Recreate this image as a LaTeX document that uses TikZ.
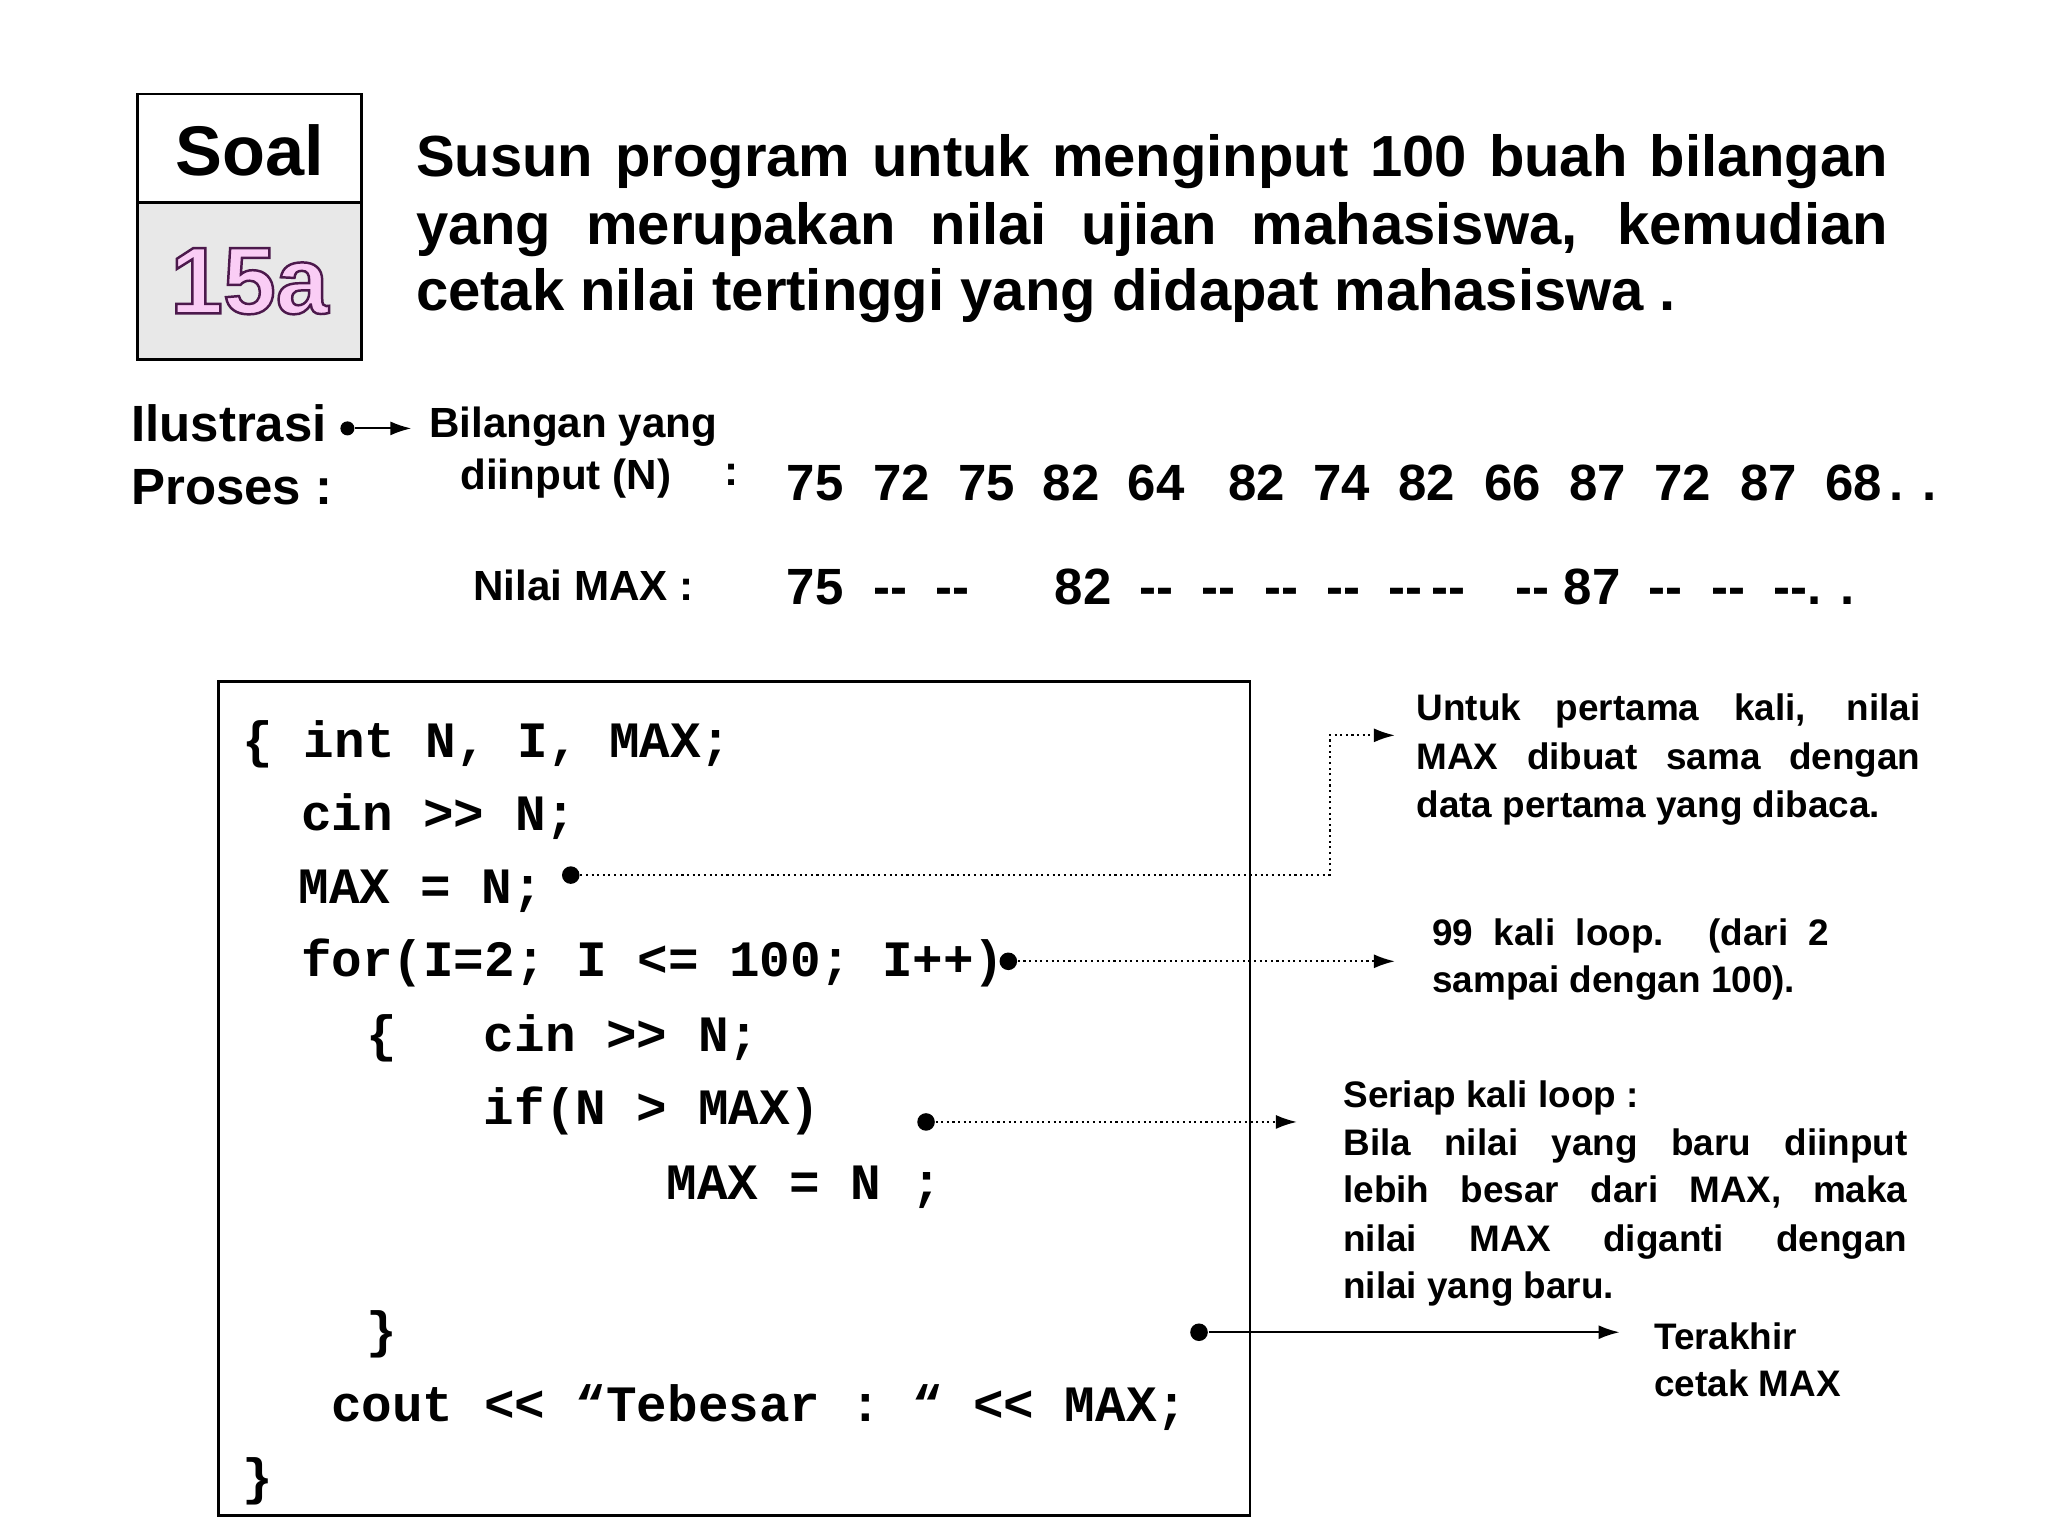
\documentclass[tikz,border=0pt]{standalone}
\usepackage{fontspec}
\setmainfont{Liberation Sans}
\setmonofont{Liberation Mono}
\usetikzlibrary{arrows.meta}
\definecolor{boxgray}{RGB}{232,232,232}
\definecolor{pinkfill}{RGB}{250,205,245}
\newcommand{\dd}{-{}-{}}
\tikzset{
 txt/.style={anchor=base west,inner sep=0pt,font=\bfseries\fontsize{16.5}{19}\selectfont},
 num/.style={anchor=base west,inner sep=0pt,font=\bfseries\fontsize{14.5}{17}\selectfont},
 lbl/.style={anchor=base west,inner sep=0pt,font=\bfseries\fontsize{12}{14}\selectfont},
 note/.style={anchor=base west,inner sep=0pt,font=\bfseries\fontsize{10.5}{13}\selectfont},
 code/.style={anchor=base west,inner sep=0pt,font=\ttfamily\bfseries\fontsize{14.5}{17}\selectfont},
 dotln/.style={densely dotted,line width=0.6pt,-{Latex[length=6pt,width=4pt]}},
 pt/.style={circle,fill=black,inner sep=0pt,minimum size=5pt}
}
\begin{document}
\begin{tikzpicture}[x=0.013061cm,y=-0.013061cm]
\useasboundingbox (0,0) rectangle (1568,1176);
% Soal box
\draw[fill=boxgray,line width=0.8pt] (105,155) rectangle (277,275);
\draw[line width=0.8pt] (105,72) rectangle (277,155);
\node[anchor=base,inner sep=0pt,font=\bfseries\fontsize{20}{24}\selectfont] (soal) at (191,134) {Soal};
\node[anchor=base,inner sep=0pt,font=\bfseries\fontsize{27}{30}\selectfont] (num) at (191,240)
 {\color{pinkfill}\special{pdf:literal direct 0.3 0.1 0.3 RG 0.7 w 2 Tr}15a\special{pdf:literal direct 0 Tr}};
% paragraph
\node[txt] (p1) at (318,135) {\makebox[418.8pt][s]{Susun program untuk menginput 100 buah bilangan}};
\node[txt] (p2) at (318,187) {\makebox[418.8pt][s]{yang merupakan nilai ujian mahasiswa, kemudian}};
\node[txt] (p3) at (318,238) {cetak nilai tertinggi yang didapat mahasiswa .};
% illustration
\node[num] (il) at (100,338) {Ilustrasi};
\node[num] (pr) at (100,386) {Proses :};
\node[pt,minimum size=4pt] (d0) at (266,328) {};
\coordinate (a0) at (315,328);
\draw[line width=0.6pt,-{Latex[length=6pt,width=4pt]}] (d0) -- (a0);
\node[lbl] (bil) at (328,335) {Bilangan yang};
\node[lbl] (din) at (352,375) {diinput (N)};
\node[lbl] (col) at (554,372) {:};
\foreach \v/\x [count=\i] in {75/602,72/668,75/733,82/798,64/863,82/940,74/1005,82/1070,66/1136,87/1201,72/1266,87/1332,68/1397}
 \node[num] (n\i) at (\x,383) {\v};
\node[num] (ndots) at (1446,383) {. .};
\node[lbl] (nm) at (362,460) {Nilai MAX :};
\node[num] (m1) at (602,463) {75};
\node[num] (m2) at (668,463) {\dd\ \ \dd};
\node[num] (m3) at (807,463) {82\ \ \dd\ \ \dd\ \ \dd\ \ \dd\ \ \dd\,\dd};
\node[num] (m4) at (1160,463) {\dd\ 87\ \ \dd\ \ \dd\ \ \dd. .};
% code box
\draw[line width=0.8pt] (167,522) rectangle (957,1160);
\node[code] (c1) at (185,580) {\{ int N, I, MAX;};
\node[code] (c2) at (230,636) {cin >> N;};
\node[code] (c3) at (228,692) {MAX = N;};
\node[code] (c4) at (230,748) {for(I=2; I <= 100; I++)};
\node[code] (c5) at (280,805) {\{};
\node[code] (c5b) at (370,805) {cin >> N;};
\node[code] (c6) at (370,861) {if(N > MAX)};
\node[code] (c7) at (510,918) {MAX = N ;};
\node[code] (c8) at (280,1032) {\}};
\node[code] (c9) at (253,1088) {cout << “Tebesar : “ << MAX;};
\node[code] (c10) at (185,1144) {\}};
% annotation 1
\node[pt] (d1) at (437,670) {};
\coordinate (a1) at (1068,563);
\draw[dotln] (d1) -- (1018,670) -- (1018,563) -- (a1);
\node[note] (t1a) at (1084,552) {\makebox[143.4pt][s]{Untuk pertama kali, nilai}};
\node[note] (t1b) at (1084,589) {\makebox[143.4pt][s]{MAX dibuat sama dengan}};
\node[note] (t1c) at (1084,626) {data pertama yang dibaca.};
% annotation 2
\node[pt] (d2) at (772,736) {};
\coordinate (a2) at (1068,736);
\draw[dotln] (d2) -- (a2);
\node[note] (t2a) at (1096,724) {\makebox[113pt][s]{99 kali loop. (dari 2}};
\node[note] (t2b) at (1096,760) {sampai dengan 100).};
% annotation 3
\node[pt] (d3) at (709,859) {};
\coordinate (a3) at (993,859);
\draw[dotln] (d3) -- (a3);
\node[note] (t3a) at (1028,848) {Seriap kali loop :};
\node[note] (t3b) at (1028,885) {\makebox[160.5pt][s]{Bila nilai yang baru diinput}};
\node[note] (t3c) at (1028,921) {\makebox[160.5pt][s]{lebih besar dari MAX, maka}};
\node[note] (t3d) at (1028,958) {\makebox[160.5pt][s]{nilai MAX diganti dengan}};
\node[note] (t3e) at (1028,994) {nilai yang baru.};
% annotation 4
\node[pt] (d4) at (918,1020) {};
\coordinate (a4) at (1240,1020);
\draw[line width=0.6pt,-{Latex[length=6pt,width=4pt]}] (d4) -- (a4);
\node[note] (t4a) at (1266,1033) {Terakhir};
\node[note] (t4b) at (1266,1069) {cetak MAX};
\end{tikzpicture}
\end{document}
